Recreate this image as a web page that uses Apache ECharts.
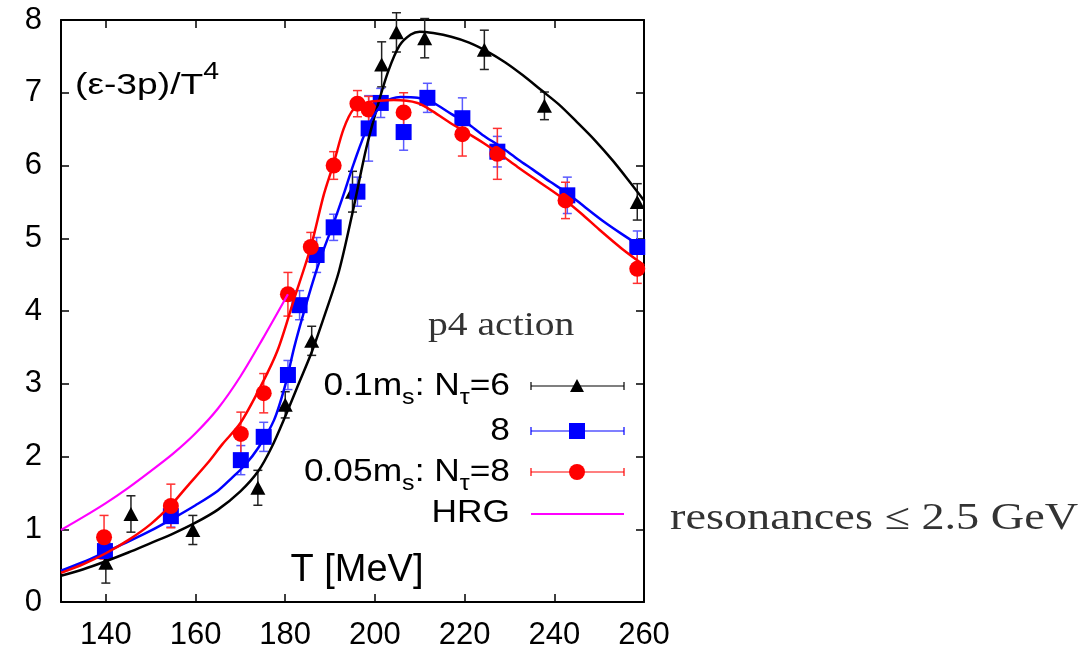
<!DOCTYPE html>
<html><head><meta charset="utf-8">
<script src="https://cdn.jsdelivr.net/npm/echarts@6/dist/echarts.min.js"></script>
<style>html,body{margin:0;padding:0;background:#fff}#c{width:1088px;height:653px}</style>
</head><body><div id="c"></div>
<script>
// ---- data points (T [MeV], value, error) ----
const blackT = [140, 145.6, 159.4, 173.9, 180, 185.9, 195, 201.5, 204.8, 211.1, 224.4, 237.8, 258.5];
const blackV = [0.54, 1.21, 0.99, 1.57, 2.71, 3.59, 5.64, 7.39, 7.83, 7.75, 7.59, 6.82, 5.50];
const blackE = [0.28, 0.25, 0.2, 0.24, 0.18, 0.2, 0.28, 0.31, 0.27, 0.27, 0.27, 0.19, 0.25];

const blueT = [139.8, 154.5, 170.1, 175.2, 180.6, 183.2, 187.0, 190.8, 196.1, 198.6, 201.3, 206.4, 211.7, 219.5, 227.3, 242.9, 258.5];
const blueV = [0.70, 1.18, 1.95, 2.27, 3.12, 4.08, 4.77, 5.15, 5.64, 6.51, 6.86, 6.46, 6.93, 6.65, 6.19, 5.59, 4.88];
const blueE = [0.18, 0.15, 0.2, 0.2, 0.2, 0.2, 0.24, 0.18, 0.2, 0.45, 0.2, 0.25, 0.2, 0.28, 0.21, 0.25, 0.22];

const redT = [139.6, 154.5, 170.1, 175.2, 180.6, 185.7, 190.8, 196.1, 198.6, 206.4, 219.5, 227.3, 242.5, 258.5];
const redV = [0.89, 1.32, 2.31, 2.87, 4.23, 4.88, 6.00, 6.85, 6.77, 6.73, 6.43, 6.16, 5.52, 4.58];
const redE = [0.3, 0.3, 0.3, 0.27, 0.3, 0.2, 0.19, 0.18, 0.18, 0.27, 0.3, 0.35, 0.25, 0.2];

// ---- fit curves ----
const blackCurveT = [130,135,140,145,150,155,160,165,170,174,177,180,183,186,189,192,195,198,200.5,203,205.5,208,210,213,217,221,225,229,233,237,241,245,249,253,257,260];
const blackCurveV = [0.36,0.45,0.56,0.68,0.81,0.94,1.09,1.27,1.52,1.8,2.13,2.55,3.0,3.45,3.98,4.55,5.35,6.22,6.8,7.3,7.65,7.8,7.84,7.82,7.77,7.69,7.57,7.42,7.24,7.04,6.84,6.6,6.35,6.07,5.76,5.52];

const blueCurveT = [130,135,140,145,150,155,160,165,168,171,174,177.5,180,182,184,186.4,188.6,190.8,193,195.3,198.4,201.9,205.7,209.5,213,217,220.6,224,228,232,235.3,239,242.9,247,251,255,260];
const blueCurveV = [0.43,0.55,0.69,0.83,0.98,1.15,1.33,1.53,1.7,1.88,2.12,2.5,2.98,3.5,3.95,4.45,4.85,5.21,5.6,6.03,6.53,6.86,6.94,6.93,6.86,6.71,6.58,6.42,6.26,6.08,5.94,5.78,5.62,5.42,5.23,5.06,4.86];

const redCurveT = [130,135,140,145,150,154.5,158,162.7,166,170,174.5,178.3,181.9,185.7,188.6,190.8,193,195.3,198.4,201,204.2,209.5,213,216.9,220.5,224.2,228,231.8,236,241.4,246,250,255,260];
const redCurveV = [0.40,0.52,0.67,0.85,1.07,1.33,1.58,1.91,2.17,2.46,2.96,3.46,4.15,4.88,5.6,6.03,6.5,6.78,6.87,6.89,6.9,6.86,6.74,6.58,6.45,6.31,6.15,5.98,5.8,5.57,5.34,5.12,4.86,4.63];

const hrgT = [130,135,140,145,150,155,160,165,170,175,180.6];
const hrgV = [0.99,1.17,1.36,1.57,1.8,2.04,2.32,2.66,3.1,3.62,4.23];

// ---- ticks ----
const xTicks = [140, 160, 180, 200, 220, 240, 260];
const xMin = 130, xMax = 260, yMin = 0, yMax = 8, yStep = 1;

// ---- texts ----
const legendLabels = [
  '{m|0.1m}{s|s}{m|: N}{s|τ}{m|=6}',
  '{m|8}',
  '{m|0.05m}{s|s}{m|: N}{s|τ}{m|=8}',
  '{m|HRG}'
];

const zip3 = (a, b, c) => a.map((v, i) => [v, b[i], c[i]]);
const zip2 = (a, b) => a.map((v, i) => [v, b[i]]);

function errRender(color, cap, width) {
  return function (params, api) {
    const x = api.value(0), y = api.value(1), e = api.value(2);
    const p1 = api.coord([x, y + e]), p2 = api.coord([x, y - e]);
    const st = { stroke: color, lineWidth: width };
    return { type: 'group', children: [
      { type: 'line', shape: { x1: p1[0], y1: p1[1], x2: p2[0], y2: p2[1] }, style: st },
      { type: 'line', shape: { x1: p1[0] - cap, y1: p1[1], x2: p1[0] + cap, y2: p1[1] }, style: st },
      { type: 'line', shape: { x1: p2[0] - cap, y1: p2[1], x2: p2[0] + cap, y2: p2[1] }, style: st }
    ]};
  };
}

const SANS = 'Liberation Sans';
const axisLine = { show: true, onZero: false, lineStyle: { color: '#000', width: 2 } };
const tickStyle = { color: '#000', width: 1.5 };

const chart = echarts.init(document.getElementById('c'), null, { renderer: 'canvas' });

const legendRowsY = [386, 431, 472, 513];
const legX1 = 531, legX2 = 624, legMid = 577, legRight = 510;
const mainRich = {
  m: { fontFamily: SANS, fontSize: 31, color: '#000' },
  s: { fontFamily: SANS, fontSize: 22, color: '#000', padding: [24, 0, 0, 0] }
};

function legendSample(y, color, w) {
  return [
    { type: 'line', shape: { x1: legX1, y1: y, x2: legX2, y2: y }, style: { stroke: color, lineWidth: w } },
    { type: 'line', shape: { x1: legX1, y1: y - 4, x2: legX1, y2: y + 4 }, style: { stroke: color, lineWidth: w } },
    { type: 'line', shape: { x1: legX2, y1: y - 4, x2: legX2, y2: y + 4 }, style: { stroke: color, lineWidth: w } }
  ];
}

const graphics = [];
legendLabels.forEach((t, i) => {
  graphics.push({ type: 'text', x: legRight, y: legendRowsY[i], scaleX: 1.14, z: 100,
    style: { text: t, rich: mainRich, align: 'right', verticalAlign: 'middle', textAlign: 'right', textVerticalAlign: 'middle' } });
});
graphics.push(...legendSample(legendRowsY[0], '#000', 1.2));
graphics.push({ type: 'polygon', z: 100, shape: { points: [[legMid - 7, legendRowsY[0] + 6], [legMid + 7, legendRowsY[0] + 6], [legMid, legendRowsY[0] - 7]] }, style: { fill: '#000' } });
graphics.push(...legendSample(legendRowsY[1], '#0000ff', 1.2));
graphics.push({ type: 'rect', z: 100, shape: { x: legMid - 8, y: legendRowsY[1] - 8, width: 16, height: 16 }, style: { fill: '#0000ff' } });
graphics.push(...legendSample(legendRowsY[2], '#ff0000', 1.2));
graphics.push({ type: 'circle', z: 100, shape: { cx: legMid, cy: legendRowsY[2], r: 8 }, style: { fill: '#ff0000' } });
graphics.push({ type: 'line', z: 100, shape: { x1: legX1, y1: 514, x2: legX2, y2: 514 }, style: { stroke: '#ff00ff', lineWidth: 2 } });

graphics.push({ type: 'text', x: 428, y: 326, scaleX: 1.2, z: 100,
  style: { text: 'p4 action', font: '33px "Liberation Serif"', fill: '#333', align: 'left', verticalAlign: 'middle', textAlign: 'left', textVerticalAlign: 'middle' } });
graphics.push({ type: 'text', x: 670, y: 519, scaleX: 1.25, z: 100,
  style: { text: 'resonances ≤ 2.5 GeV', font: '37px "Liberation Serif"', fill: '#333', align: 'left', verticalAlign: 'middle', textAlign: 'left', textVerticalAlign: 'middle' } });
graphics.push({ type: 'text', x: 357, y: 571, z: 100,
  style: { text: 'T [MeV]', font: '38px "Liberation Sans"', fill: '#000', align: 'center', verticalAlign: 'middle', textAlign: 'center', textVerticalAlign: 'middle' } });
graphics.push({ type: 'text', x: 75, y: 86, scaleX: 1.24, z: 100,
  style: { text: '{m|(ε-3p)/T}{u|4}', rich: {
      m: { fontFamily: SANS, fontSize: 30, color: '#000' },
      u: { fontFamily: SANS, fontSize: 23, color: '#000', padding: [0, 0, 26, 0] } },
    align: 'left', verticalAlign: 'middle', textAlign: 'left', textVerticalAlign: 'middle' } });

const option = {
  backgroundColor: '#fff',
  animation: false,
  grid: { left: 61, right: 444, top: 20, bottom: 51, containLabel: false },
  xAxis: [
    { type: 'value', min: xMin, max: xMax, position: 'bottom', axisLine,
      axisTick: { show: true, inside: true, length: 8, customValues: xTicks, lineStyle: tickStyle },
      axisLabel: { show: true, customValues: xTicks, fontSize: 31, fontFamily: SANS, color: '#000', margin: 18 },
      splitLine: { show: false } },
    { type: 'value', min: xMin, max: xMax, position: 'top', axisLine,
      axisTick: { show: true, inside: true, length: 8, customValues: xTicks, lineStyle: tickStyle },
      axisLabel: { show: false }, splitLine: { show: false } }
  ],
  yAxis: [
    { type: 'value', min: yMin, max: yMax, interval: yStep, position: 'left', axisLine,
      axisTick: { show: true, inside: true, length: 8, lineStyle: tickStyle },
      axisLabel: { show: true, fontSize: 31, fontFamily: SANS, color: '#000', margin: 19 },
      splitLine: { show: false } },
    { type: 'value', min: yMin, max: yMax, interval: yStep, position: 'right', axisLine,
      axisTick: { show: true, inside: true, length: 8, lineStyle: tickStyle },
      axisLabel: { show: false }, splitLine: { show: false } }
  ],
  series: [
    { type: 'custom', name: 'errBlack', xAxisIndex: 0, yAxisIndex: 0, z: 1, encode: { x: 0, y: 1 },
      renderItem: errRender('#222', 4.5, 1.5), data: zip3(blackT, blackV, blackE) },
    { type: 'custom', name: 'errBlue', xAxisIndex: 0, yAxisIndex: 0, z: 1, encode: { x: 0, y: 1 },
      renderItem: errRender('#5a5aff', 4.5, 1.5), data: zip3(blueT, blueV, blueE) },
    { type: 'custom', name: 'errRed', xAxisIndex: 0, yAxisIndex: 0, z: 1, encode: { x: 0, y: 1 },
      renderItem: errRender('#ff3030', 4.5, 1.5), data: zip3(redT, redV, redE) },
    { type: 'scatter', name: '0.1ms: Nτ=6', z: 2, symbol: 'triangle', symbolSize: [15, 14],
      itemStyle: { color: '#000', opacity: 1 }, data: zip2(blackT, blackV) },
    { type: 'scatter', name: '8', z: 2, symbol: 'rect', symbolSize: 16,
      itemStyle: { color: '#0000ff', opacity: 1 }, data: zip2(blueT, blueV) },
    { type: 'scatter', name: '0.05ms: Nτ=8', z: 2, symbol: 'circle', symbolSize: 16,
      itemStyle: { color: '#ff0000', opacity: 1 }, data: zip2(redT, redV) },
    { type: 'line', name: 'HRG', z: 3, symbol: 'none', smooth: 0.3, lineStyle: { color: '#ff00ff', width: 2.2 }, data: zip2(hrgT, hrgV) },
    { type: 'line', name: 'fitBlack', z: 3, symbol: 'none', smooth: 0.3, lineStyle: { color: '#000', width: 2.5 }, data: zip2(blackCurveT, blackCurveV) },
    { type: 'line', name: 'fitBlue', z: 3, symbol: 'none', smooth: 0.3, lineStyle: { color: '#0000ff', width: 2.5 }, data: zip2(blueCurveT, blueCurveV) },
    { type: 'line', name: 'fitRed', z: 3, symbol: 'none', smooth: 0.3, lineStyle: { color: '#ff0000', width: 2.5 }, data: zip2(redCurveT, redCurveV) }
  ],
  graphic: graphics
};
chart.setOption(option);
</script>
</body></html>
